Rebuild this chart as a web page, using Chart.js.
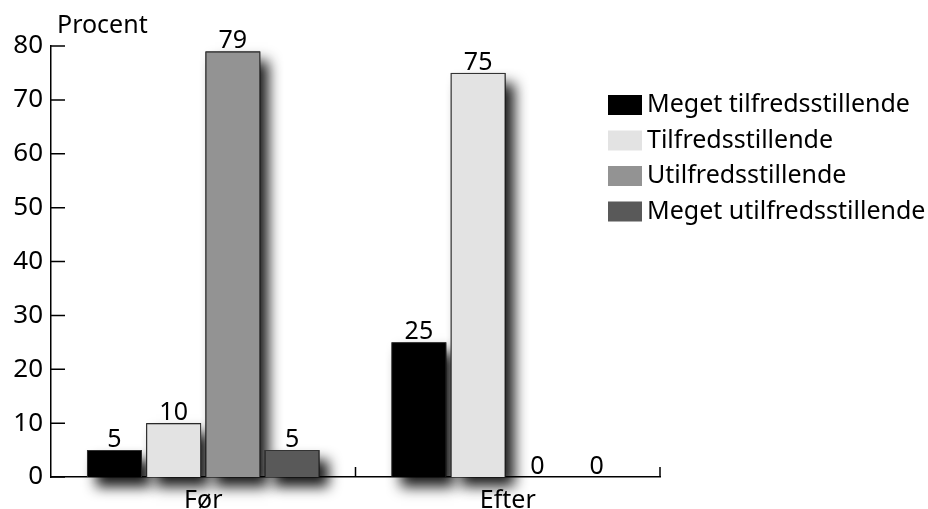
<!DOCTYPE html>
<html>
<head>
<meta charset="utf-8">
<script src="https://cdn.jsdelivr.net/npm/chart.js@4/dist/chart.umd.min.js"></script>
<style>
  html, body { margin: 0; padding: 0; background: #fff; }
</style>
</head>
<body>
<canvas id="myChart" width="928" height="509"></canvas>
<script>
const categories = ['Før', 'Efter']
const seriesNames = ['Meget tilfredsstillende', 'Tilfredsstillende', 'Utilfredsstillende', 'Meget utilfredsstillende']
const meget_tilfreds = [5, 25]
const tilfreds = [10, 75]
const utilfreds = [79, 0]
const meget_utilfreds = [5, 0]
const colors = ['#000000', '#e3e3e3', '#939393', '#595959']
const yTicks = [0, 10, 20, 30, 40, 50, 60, 70, 80]

const FONT = 'Noto Sans'
const seriesData = [meget_tilfreds, tilfreds, utilfreds, meget_utilfreds]

// shadows drawn under all bars first so they never cover a neighbour bar
const barShadow = {
  id: 'barShadow',
  beforeDatasetsDraw(chart) {
    const ctx = chart.ctx
    ctx.save()
    ctx.shadowColor = 'rgba(0,0,0,0.9)'
    ctx.shadowBlur = 13
    ctx.shadowOffsetX = 9
    ctx.shadowOffsetY = 10
    ctx.fillStyle = '#000'
    chart.data.datasets.forEach((ds, i) => {
      chart.getDatasetMeta(i).data.forEach(bar => {
        const h = bar.base - bar.y
        if (h < 1) return
        ctx.fillRect(bar.x - bar.width / 2, bar.y, bar.width, h)
      })
    })
    ctx.restore()
  }
}

// value labels above bars and inward tick marks
const extras = {
  id: 'extras',
  afterDatasetsDraw(chart) {
    const ctx = chart.ctx
    ctx.save()
    ctx.font = '25px "' + FONT + '"'
    ctx.fillStyle = '#000'
    ctx.textAlign = 'center'
    ctx.textBaseline = 'alphabetic'
    chart.data.datasets.forEach((ds, i) => {
      chart.getDatasetMeta(i).data.forEach((bar, j) => {
        ctx.fillText(String(ds.data[j]), bar.x, bar.y - 3)
      })
    })
    const { x, y } = chart.scales
    ctx.strokeStyle = '#000'
    ctx.lineWidth = 1.5
    ctx.beginPath()
    y.ticks.forEach((t, i) => {
      const py = y.getPixelForTick(i)
      ctx.moveTo(x.left, py)
      ctx.lineTo(x.left + 14, py)
    })
    const step = (x.right - x.left) / categories.length
    for (let k = 1; k <= categories.length; k++) {
      const px = x.left + step * k
      ctx.moveTo(px, y.bottom)
      ctx.lineTo(px, y.bottom - 10)
    }
    ctx.stroke()
    ctx.restore()
  }
}

// put legend and "Procent" where they sit in the original
const placeBoxes = {
  id: 'placeBoxes',
  afterLayout(chart) {
    const lg = chart.legend
    const w = lg.width, h = lg.height
    lg.left = 605; lg.top = 82; lg.right = lg.left + w; lg.bottom = lg.top + h
    const t = chart.titleBlock
    const tw = t.right - t.left
    t.left = 57; t.right = 57 + tw
  }
}

new Chart(document.getElementById('myChart'), {
  type: 'bar',
  data: {
    labels: categories,
    datasets: seriesNames.map((name, i) => ({
      label: name,
      data: seriesData[i],
      backgroundColor: colors[i],
      borderColor: '#333',
      borderWidth: 1,
      categoryPercentage: 0.778,
      barPercentage: 0.927
    }))
  },
  options: {
    responsive: false,
    animation: false,
    layout: { padding: { left: 0, right: 268, top: 0, bottom: 0 } },
    plugins: {
      tooltip: { enabled: false },
      title: {
        display: true,
        text: 'Procent',
        align: 'start',
        color: '#000',
        font: { family: FONT, size: 25, weight: 'normal', lineHeight: 1.2 },
        padding: { top: 11, bottom: 5 }
      },
      legend: {
        position: 'chartArea',
        align: 'start',
        labels: {
          color: '#000',
          font: { family: FONT, size: 25 },
          // thick stroke in the fill colour widens the swatch, keeping the text close to it
          boxWidth: 19,
          boxHeight: 5,
          padding: 10.5,
          generateLabels(chart) {
            return Chart.defaults.plugins.legend.labels.generateLabels(chart).map(item => ({
              ...item,
              strokeStyle: item.fillStyle,
              lineWidth: 15
            }))
          }
        }
      }
    },
    scales: {
      x: {
        afterFit(scale) { scale.height = 32 },
        grid: { display: false, drawTicks: false },
        border: { display: true, color: '#000', width: 1.5 },
        ticks: { color: '#000', padding: 9, font: { family: FONT, size: 25, lineHeight: 1.2 } }
      },
      y: {
        min: 0,
        max: 80,
        afterBuildTicks(scale) { scale.ticks = yTicks.map(v => ({ value: v })) },
        afterFit(scale) { scale.width = 51 },
        grid: { display: false, drawTicks: false },
        border: { display: true, color: '#000', width: 1.5 },
        ticks: { color: '#000', padding: 8, font: { family: FONT, size: 26 } }
      }
    }
  },
  plugins: [barShadow, extras, placeBoxes]
})
</script>
</body>
</html>
